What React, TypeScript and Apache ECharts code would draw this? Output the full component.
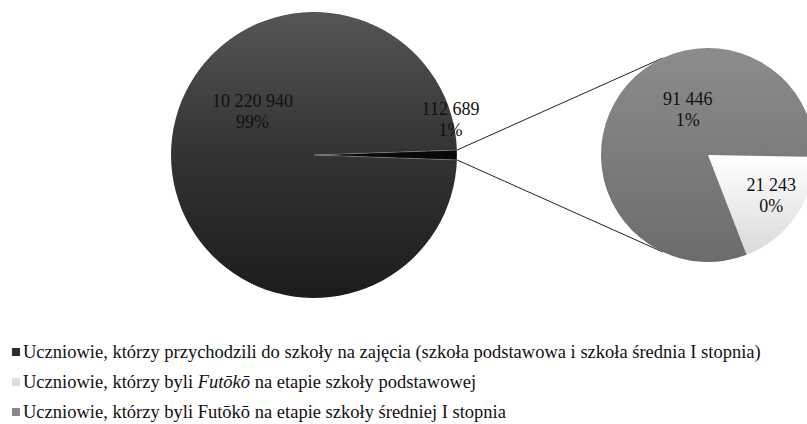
import React, { useEffect, useRef } from "react";
import * as echarts from "echarts";

const categories = [
  "Uczniowie, którzy przychodzili do szkoły na zajęcia (szkoła podstawowa i szkoła średnia I stopnia)",
  "Uczniowie, którzy byli Futōkō na etapie szkoły podstawowej",
  "Uczniowie, którzy byli Futōkō na etapie szkoły średniej I stopnia",
];
const legendTexts = [
  "Uczniowie, którzy przychodzili do szkoły na zajęcia (szkoła podstawowa i szkoła średnia I stopnia)",
  "Uczniowie, którzy byli {i|Futōkō} na etapie szkoły podstawowej",
  "Uczniowie, którzy byli Futōkō na etapie szkoły średniej I stopnia",
];
const values = [10220940, 21243, 91446];
const othersName = "Futōkō";

const FONT = "Liberation Serif";

function fmtNum(v: number): string {
  return String(v).replace(/\B(?=(\d{3})+(?!\d))/g, " ");
}

export default function App() {
  const ref = useRef<HTMLDivElement>(null);
  useEffect(() => {
    document.body.style.margin = "0";
    if (!ref.current) return;
    const chart = echarts.init(ref.current, undefined, { renderer: "svg" });
    const total = values[0] + values[1] + values[2];
    const others = values[1] + values[2];
    const othersAngle = (others / total) * 360;
    const pct = (v: number) => Math.round((v / total) * 100) + "%";
    const lbl = (p: any) => fmtNum(p.value) + "\n" + pct(p.value);

    const mainC = [314, 155];
    const mainR = 143;
    const subC = [708, 155];
    const subR = 107;
    const half = (othersAngle / 2) * Math.PI / 180;
    const tang = (115 * Math.PI) / 180;
    const p1 = [mainC[0] + mainR * Math.cos(half), mainC[1] - mainR * Math.sin(half)];
    const p2 = [mainC[0] + mainR * Math.cos(half), mainC[1] + mainR * Math.sin(half)];
    const q1 = [subC[0] + subR * Math.cos(tang), subC[1] - subR * Math.sin(tang)];
    const q2 = [subC[0] + subR * Math.cos(tang), subC[1] + subR * Math.sin(tang)];

    const labelStyle = {
      show: true,
      position: "inside",
      formatter: lbl,
      fontFamily: FONT,
      fontSize: 18,
      lineHeight: 21,
      color: "#111",
    };

    const legendColors = ["#2e2e2e", "#dedede", "#8a8a8a"];
    const legendY = [352, 382, 412];
    const legendGraphics: any[] = [];
    legendTexts.forEach((t, i) => {
      legendGraphics.push({
        type: "rect",
        shape: { x: 12, y: legendY[i] - 4, width: 8, height: 8 },
        style: { fill: legendColors[i] },
      });
      legendGraphics.push({
        type: "text",
        x: 23,
        y: legendY[i],
        style: {
          text: t,
          fontFamily: FONT,
          fontSize: 18.5,
          fill: "#111",
          verticalAlign: "middle",
          rich: { i: { fontStyle: "italic", fontFamily: FONT, fontSize: 18.5, fill: "#111" } },
        },
      });
    });

    chart.setOption({
      animation: false,
      backgroundColor: "#fff",
      series: [
        {
          type: "pie",
          center: mainC,
          radius: mainR,
          startAngle: -othersAngle / 2,
          clockwise: true,
          avoidLabelOverlap: false,
          silent: true,
          label: labelStyle,
          labelLine: { show: false },
          labelLayout: (p: any) =>
            p.dataIndex === 0 ? { dx: 13, dy: -44 } : { dx: 62, dy: -36 },
          data: [
            {
              name: categories[0],
              value: values[0],
              itemStyle: {
                color: new echarts.graphic.LinearGradient(0, 0, 0, 1, [
                  { offset: 0, color: "#555555" },
                  { offset: 0.5, color: "#333333" },
                  { offset: 1, color: "#1c1c1c" },
                ]),
              },
            },
            {
              name: othersName,
              value: others,
              itemStyle: {
                color: "#080808",
                borderColor: "rgba(190,190,190,0.6)",
                borderWidth: 0.6,
              },
            },
          ],
        },
        {
          type: "pie",
          center: subC,
          radius: subR,
          startAngle: -1,
          clockwise: true,
          avoidLabelOverlap: false,
          silent: true,
          label: labelStyle,
          labelLine: { show: false },
          labelLayout: (p: any) =>
            p.dataIndex === 0 ? { dx: 17, dy: 8 } : { dx: 26, dy: -13 },
          data: [
            {
              name: categories[1],
              value: values[1],
              itemStyle: {
                color: new echarts.graphic.LinearGradient(0, 0, 0, 1, [
                  { offset: 0, color: "#ffffff" },
                  { offset: 1, color: "#dadada" },
                ]),
              },
            },
            {
              name: categories[2],
              value: values[2],
              itemStyle: {
                color: new echarts.graphic.LinearGradient(0, 0, 0, 1, [
                  { offset: 0, color: "#8c8c8c" },
                  { offset: 1, color: "#6c6c6c" },
                ]),
              },
            },
          ],
        },
      ],
      graphic: [
        {
          type: "line",
          shape: { x1: p1[0], y1: p1[1], x2: q1[0], y2: q1[1] },
          style: { stroke: "#222", lineWidth: 1 },
        },
        {
          type: "line",
          shape: { x1: p2[0], y1: p2[1], x2: q2[0], y2: q2[1] },
          style: { stroke: "#222", lineWidth: 1 },
        },
        ...legendGraphics,
      ],
    });
    return () => chart.dispose();
  }, []);
  return (
    <div
      ref={ref}
      style={{ position: "absolute", left: 0, top: 0, width: 807, height: 424 }}
    />
  );
}
